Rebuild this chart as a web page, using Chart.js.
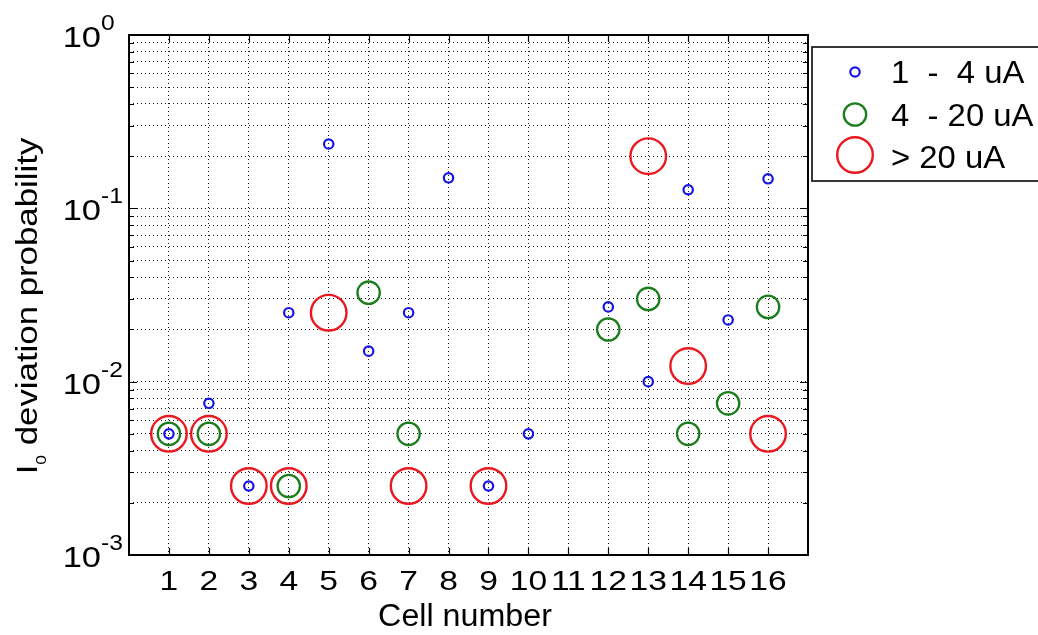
<!DOCTYPE html>
<html>
<head>
<meta charset="utf-8">
<title>I0 deviation probability per cell</title>
<script src="https://cdn.jsdelivr.net/npm/chart.js@4.4.1/dist/chart.umd.min.js"></script>
<style>
  html, body { margin: 0; padding: 0; background: #ffffff; }
  #wrap { width: 1038px; height: 635px; }
</style>
</head>
<body>
<div id="wrap"><canvas id="c" width="1038" height="635"></canvas></div>
<script>
// ---- data ----
const cellTicks = [1, 2, 3, 4, 5, 6, 7, 8, 9, 10, 11, 12, 13, 14, 15, 16];
const yDecades = [0.001, 0.01, 0.1, 1];
const yExponents = ['0', '-1', '-2', '-3'];
const seriesLabels = ['1  -  4 uA', '4  - 20 uA', '> 20 uA'];

const lowCells = [1, 2, 3, 4, 5, 6, 7, 8, 9, 10, 12, 13, 14, 15, 16];
const lowValues = [0.005, 0.0075, 0.0025, 0.025, 0.235, 0.015, 0.025, 0.15, 0.0025, 0.005, 0.027, 0.01, 0.128, 0.0227, 0.148];

const midCells = [1, 2, 4, 6, 7, 12, 13, 14, 15, 16];
const midValues = [0.005, 0.005, 0.0025, 0.0326, 0.005, 0.02, 0.03, 0.005, 0.0075, 0.027];

const highCells = [1, 2, 3, 4, 5, 7, 9, 13, 14, 16];
const highValues = [0.005, 0.005, 0.0025, 0.0025, 0.025, 0.0025, 0.0025, 0.2, 0.0123, 0.005];

// log grid: 1..9 in every decade, plus the top edge
const yGridValues = [];
[0.001, 0.01, 0.1].forEach(d => {
  for (let m = 1; m <= 9; m++) yGridValues.push(parseFloat((m * d).toPrecision(3)));
});
yGridValues.push(1);

const FONT = '"Liberation Sans", Arial, Helvetica, sans-serif';

function pts(xs, ys) { return xs.map((x, i) => ({ x: x, y: ys[i] })); }

// text drawn with a horizontal stretch factor
function stretchText(ctx, str, x, y, size, sx, align) {
  ctx.save();
  ctx.font = size + 'px ' + FONT;
  ctx.textAlign = 'left';
  ctx.textBaseline = 'alphabetic';
  const w = ctx.measureText(str).width * sx;
  const x0 = align === 'center' ? x - w / 2 : (align === 'right' ? x - w : x);
  ctx.translate(x0, y);
  ctx.scale(sx, 1);
  ctx.fillText(str, 0, 0);
  ctx.restore();
  return w;
}

const frame = {
  id: 'frame',
  afterDraw(chart) {
    const ctx = chart.ctx;
    const ca = chart.chartArea;
    const xs = chart.scales.x;
    const ys = chart.scales.y;
    ctx.save();
    ctx.fillStyle = '#000';
    ctx.strokeStyle = '#000';

    // tick marks (inside, on all four sides)
    ctx.lineWidth = 1.2;
    ctx.beginPath();
    cellTicks.forEach(c => {
      const px = Math.round(xs.getPixelForValue(c)) + 0.5;
      ctx.moveTo(px, ca.bottom); ctx.lineTo(px, ca.bottom - 7);
      ctx.moveTo(px, ca.top); ctx.lineTo(px, ca.top + 7);
    });
    yGridValues.forEach(v => {
      const py = Math.round(ys.getPixelForValue(v)) + 0.5;
      const len = yDecades.includes(v) ? 8 : 5;
      ctx.moveTo(ca.left, py); ctx.lineTo(ca.left + len, py);
      ctx.moveTo(ca.right, py); ctx.lineTo(ca.right - len, py);
    });
    ctx.stroke();

    // axes box
    ctx.lineWidth = 2;
    ctx.strokeRect(ca.left, ca.top, ca.right - ca.left, ca.bottom - ca.top);

    // x tick labels
    cellTicks.forEach(c => {
      stretchText(ctx, String(c), xs.getPixelForValue(c), 590, 28, 1.2, 'center');
    });

    // y tick labels: 10 with superscript exponent
    const decadesDesc = yDecades.slice().reverse();
    decadesDesc.forEach((v, i) => {
      const py = ys.getPixelForValue(v);
      stretchText(ctx, '10', 101, py + 12, 30, 1.15, 'right');
      stretchText(ctx, yExponents[i], 101, py - 5, 22, 1.12, 'left');
    });

    // x axis title
    stretchText(ctx, 'Cell number', 465, 626, 31, 1.04, 'center');

    // y axis title: I with subscript 0
    ctx.save();
    ctx.translate(37, 306);
    ctx.rotate(-Math.PI / 2);
    const tsx = 1.16;
    ctx.font = '30px ' + FONT;
    const wI = ctx.measureText('I').width * tsx;
    const wRest = ctx.measureText(' deviation probability').width * tsx;
    ctx.font = '15px ' + FONT;
    const wSub = ctx.measureText('0').width * tsx;
    const total = wI + wSub + wRest;
    let start = -total / 2;
    stretchText(ctx, 'I', start, 0, 30, tsx, 'left');
    stretchText(ctx, '0', start + wI, 9, 15, tsx, 'left');
    stretchText(ctx, ' deviation probability', start + wI + wSub, 0, 30, tsx, 'left');
    ctx.restore();

    // legend
    ctx.fillStyle = '#fff';
    ctx.fillRect(812, 47, 240, 134);
    ctx.lineWidth = 1.8;
    ctx.strokeStyle = '#222';
    ctx.strokeRect(812, 47, 240, 134);
    const rowMarkY = [72, 114.5, 155];
    const rowTextY = [83, 126, 168];
    chart.data.datasets.forEach((ds, i) => {
      ctx.beginPath();
      ctx.lineWidth = ds.pointBorderWidth;
      ctx.strokeStyle = ds.pointBorderColor;
      ctx.arc(855, rowMarkY[i], ds.pointRadius, 0, Math.PI * 2);
      ctx.stroke();
      ctx.fillStyle = '#000';
      stretchText(ctx, ds.label, 891, rowTextY[i], 31, 1.06, 'left');
    });

    ctx.restore();
  }
};

const gridColor = '#1a1a1a';

new Chart(document.getElementById('c'), {
  type: 'scatter',
  data: {
    datasets: [
      {
        label: seriesLabels[0],
        data: pts(lowCells, lowValues),
        pointRadius: 4.7,
        pointBorderWidth: 2.2,
        pointBorderColor: '#1414e6',
        pointBackgroundColor: 'rgba(0,0,0,0)',
        showLine: false
      },
      {
        label: seriesLabels[1],
        data: pts(midCells, midValues),
        pointRadius: 11.2,
        pointBorderWidth: 2.3,
        pointBorderColor: '#1c7d1c',
        pointBackgroundColor: 'rgba(0,0,0,0)',
        showLine: false
      },
      {
        label: seriesLabels[2],
        data: pts(highCells, highValues),
        pointRadius: 17.8,
        pointBorderWidth: 2.4,
        pointBorderColor: '#ea1820',
        pointBackgroundColor: 'rgba(0,0,0,0)',
        showLine: false
      }
    ]
  },
  options: {
    responsive: false,
    animation: false,
    devicePixelRatio: 1,
    events: [],
    layout: { padding: { left: 129, top: 35, right: 230, bottom: 80 } },
    plugins: { legend: { display: false }, tooltip: { enabled: false } },
    elements: { point: { hitRadius: 0 } },
    scales: {
      x: {
        type: 'linear',
        min: 0,
        max: 17,
        afterBuildTicks: (scale) => { scale.ticks = cellTicks.map(v => ({ value: v })); },
        ticks: { display: false },
        grid: { color: gridColor, lineWidth: 1, drawTicks: false },
        border: { display: false, dash: [1, 3] }
      },
      y: {
        type: 'logarithmic',
        min: 0.001,
        max: 1,
        afterBuildTicks: (scale) => {
          scale.ticks = yGridValues.map(v => ({ value: v, major: yDecades.includes(v) }));
        },
        ticks: { display: false },
        grid: {
          color: (c) => (c.tick && (c.tick.value === 0.001 || c.tick.value === 1)) ? 'rgba(0,0,0,0)' : gridColor,
          lineWidth: 1,
          drawTicks: false
        },
        border: { display: false, dash: [1, 3] }
      }
    }
  },
  plugins: [frame]
});
</script>
</body>
</html>
